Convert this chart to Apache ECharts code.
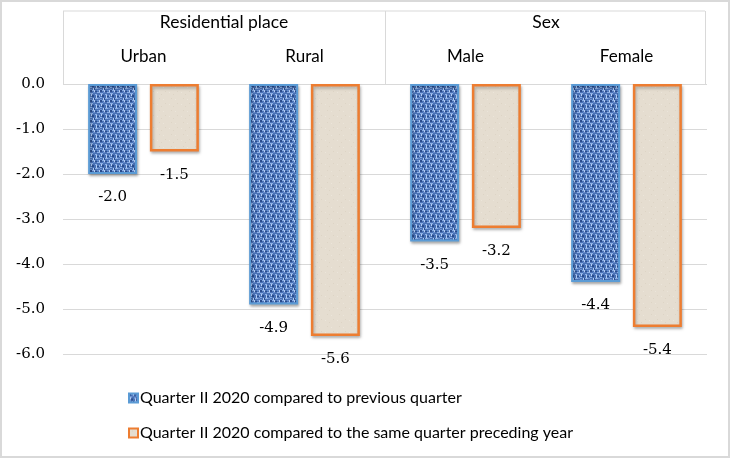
<!DOCTYPE html>
<html><head><meta charset="utf-8">
<script src="https://cdn.jsdelivr.net/npm/echarts@6/dist/echarts.min.js"></script>
<style>html,body{margin:0;padding:0;background:#fff}#c{width:730px;height:458px}</style>
</head><body><div id="c"></div>
<script>
var categories = ['Urban', 'Rural', 'Male', 'Female'];
var groups = ['Residential place', 'Sex'];
var prevQuarter = [-2.0, -4.9, -3.5, -4.4];
var sameQuarterLastYear = [-1.5, -5.6, -3.2, -5.4];
var seriesNames = ['Quarter II 2020 compared to previous quarter', 'Quarter II 2020 compared to the same quarter preceding year'];

function weave() {
  var c = document.createElement('canvas'); c.width = 10; c.height = 10;
  var g = c.getContext('2d');
  g.fillStyle = '#4a72b6'; g.fillRect(0, 0, 10, 10);
  g.fillStyle = '#2b4c8c';
  g.fillRect(0, 0, 2, 2); g.fillRect(5, 1, 2, 1); g.fillRect(2, 5, 2, 2); g.fillRect(7, 6, 2, 1); g.fillRect(4, 8, 1, 2);
  g.fillStyle = '#8eb0e6';
  g.fillRect(2, 0, 3, 1); g.fillRect(7, 2, 3, 1); g.fillRect(0, 3, 3, 1); g.fillRect(5, 4, 2, 1);
  g.fillRect(0, 7, 2, 1); g.fillRect(5, 8, 3, 1); g.fillRect(9, 5, 1, 2);
  g.fillStyle = '#b4cdf2';
  g.fillRect(4, 0, 1, 3); g.fillRect(9, 0, 1, 2); g.fillRect(1, 4, 1, 2); g.fillRect(6, 5, 1, 3); g.fillRect(3, 8, 1, 2);
  g.fillStyle = '#6a90d0';
  g.fillRect(7, 0, 2, 1); g.fillRect(3, 2, 2, 1); g.fillRect(8, 8, 2, 1); g.fillRect(0, 9, 2, 1);
  return c;
}
function paper() {
  var c = document.createElement('canvas'); c.width = 12; c.height = 12;
  var g = c.getContext('2d');
  g.fillStyle = '#e5ddd0'; g.fillRect(0, 0, 12, 12);
  g.fillStyle = '#ddd4c5'; g.fillRect(3, 2, 1, 1); g.fillRect(9, 7, 1, 1); g.fillRect(5, 10, 1, 1);
  g.fillStyle = '#ebe5da'; g.fillRect(7, 3, 1, 1); g.fillRect(1, 8, 1, 1);
  return c;
}

var F = 'Lato, "Open Sans", sans-serif';
var NF = '"DejaVu Serif", "Liberation Serif", serif';
var chart = echarts.init(document.getElementById('c'));
var line = {stroke: '#d9d9d9', lineWidth: 1};
var lbl = {show: true, position: 'bottom', distance: 16, fontSize: 15, color: '#000', fontFamily: NF,
  formatter: function (p) { return p.value.toFixed(1); }};
chart.setOption({
  animation: false,
  textStyle: {fontFamily: F},
  grid: {left: 63, right: 23, top: 84, bottom: 104},
  legend: {
    orient: 'vertical', left: 123, top: 385, itemGap: 19,
    itemWidth: 9, itemHeight: 9, icon: 'rect',
    textStyle: {fontSize: 16, color: '#000', fontFamily: F, padding: [0, 0, 0, -3]},
    data: seriesNames
  },
  xAxis: [
    {type: 'category', data: categories, position: 'top',
     axisLine: {show: false}, axisTick: {show: false},
     axisLabel: {margin: 19, fontSize: 17, color: '#000', fontFamily: F}},
    {type: 'category', data: groups, position: 'top',
     axisLine: {show: false}, axisTick: {show: false},
     axisLabel: {margin: 53, fontSize: 17.5, color: '#000', fontFamily: F}}
  ],
  yAxis: {
    type: 'value', min: -6, max: 0, interval: 1,
    axisLine: {show: false}, axisTick: {show: false},
    splitLine: {lineStyle: {color: '#d9d9d9', width: 1}},
    axisLabel: {margin: 18, fontSize: 15, color: '#000', fontFamily: NF,
      formatter: function (v) { return v.toFixed(1); }}
  },
  series: [
    {name: seriesNames[0], type: 'bar', data: prevQuarter, barWidth: 49, barGap: '26%',
     itemStyle: {color: {image: weave(), repeat: 'repeat'}, borderColor: '#5b9bd5', borderWidth: 2,
       shadowBlur: 3, shadowOffsetX: 1, shadowOffsetY: 2, shadowColor: 'rgba(0,0,0,0.3)'},
     label: lbl},
    {name: seriesNames[1], type: 'bar', data: sameQuarterLastYear, barWidth: 49,
     itemStyle: {color: {image: paper(), repeat: 'repeat'}, borderColor: '#ed7d31', borderWidth: 2.5,
       shadowBlur: 3, shadowOffsetX: 1, shadowOffsetY: 2, shadowColor: 'rgba(0,0,0,0.25)'},
     label: lbl}
  ],
  graphic: [
    {type: 'line', shape: {x1: 63, y1: 11, x2: 705, y2: 11}, style: line, z: 10},
    {type: 'line', shape: {x1: 63.5, y1: 11, x2: 63.5, y2: 84}, style: line, z: 10},
    {type: 'line', shape: {x1: 385.5, y1: 11, x2: 385.5, y2: 84}, style: line, z: 10},
    {type: 'line', shape: {x1: 705.5, y1: 11, x2: 705.5, y2: 84}, style: line, z: 10},
    {type: 'rect', shape: {x: 1, y: 1, width: 728, height: 456}, style: {fill: 'none', stroke: '#d9d9d9', lineWidth: 2}, z: 10}
  ]
});
</script></body></html>
